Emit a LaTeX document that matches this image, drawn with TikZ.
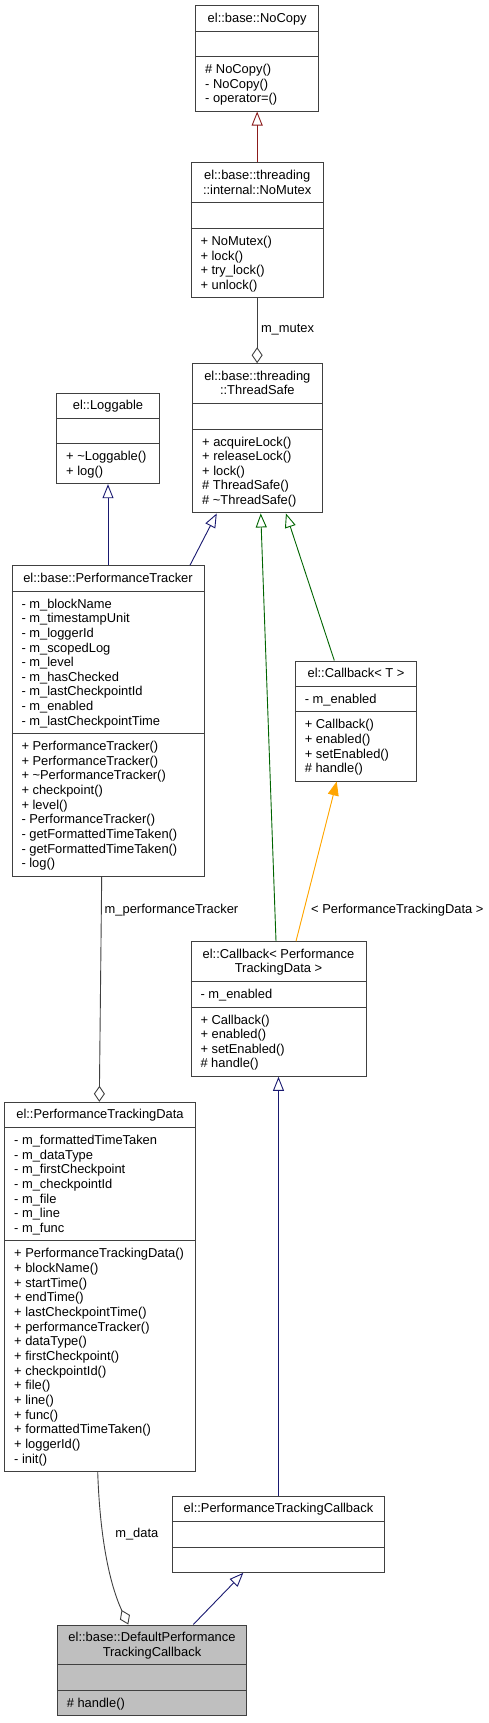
\documentclass[tikz,border=0pt]{standalone}
\usepackage{fontspec}
\setmainfont{Liberation Sans}
\usetikzlibrary{arrows.meta,fit}
\definecolor{midnightblue}{HTML}{191970}
\definecolor{darkgreen}{HTML}{006400}
\definecolor{firebrick}{HTML}{8B1A1A}
\definecolor{orangetpl}{HTML}{FFA500}
\definecolor{usegrey}{HTML}{404040}
% class box: [fill]{name}{left}{right}{top}{bottom}
\newcommand{\umlbox}[6][white]{%
  \node[classbox, fill=#1, fit={(#3,#5) (#4,#6)}] (#2) {};}
\newcommand{\umlsep}[2]{\draw[sepline] (#1.west |- 0,#2) -- (#1.east |- 0,#2);}
% centred title lines below the top of a box
\newcommand{\umltitle}[2]{%
  \foreach \row [count=\i from 0] in {#2}
    \node[ctitle, yshift={-17pt-\i*14.65pt}] (#1-t\i) at (#1.north) {\row};}
% left aligned rows of a compartment: {box}{prefix}{top}{rows}
\newcommand{\umlrows}[4]{%
  \foreach \row [count=\i from 0] in {#4}{
    \pgfmathsetmacro\rowy{#3+17+\i*14.65}
    \node[member, xshift=9.8pt] (#1-#2\i) at (#1.west |- 0,\rowy) {\row};}}
\begin{document}
\begin{tikzpicture}[x=1pt,y=-1pt,
  classbox/.style={draw=black!75, line width=1pt, inner sep=0pt},
  sepline/.style={draw=black!75, line width=1pt},
  ctitle/.style={anchor=base, inner sep=0pt, font=\fontsize{12.9}{14.65}\selectfont},
  member/.style={anchor=base west, inner sep=0pt, font=\fontsize{12.9}{14.65}\selectfont},
  lbl/.style={anchor=base west, inner sep=0pt, font=\fontsize{12.9}{14.65}\selectfont},
  inherit/.style={-{Triangle[open,length=14pt,width=11pt]}, line width=0.9pt},
  tplinst/.style={-{Triangle[length=14pt,width=11pt]}, line width=0.9pt, draw=orangetpl, fill=orangetpl},
  uses/.style={-{Diamond[open,length=16pt,width=11pt]}, line width=0.9pt, draw=usegrey}]
\useasboundingbox (0,0) rectangle (489,1723);
%
\umlbox{nocopy}{195.7}{318.7}{5.7}{111.05}
\umlsep{nocopy}{31.05} \umlsep{nocopy}{56.4}
\umltitle{nocopy}{el::base::NoCopy}
\umlrows{nocopy}{m}{56.4}{\# NoCopy(), - NoCopy(), - operator=()}
%
\umlbox{nomutex}{191}{323.3}{163}{297.65}
\umlsep{nomutex}{203} \umlsep{nomutex}{228.35}
\umltitle{nomutex}{el::base::threading, ::internal::NoMutex}
\umlrows{nomutex}{m}{228.35}{+ NoMutex(), + lock(), + try\_lock(), + unlock()}
%
\umlbox{threadsafe}{192.7}{322}{363.7}{512.95}
\umlsep{threadsafe}{403.65} \umlsep{threadsafe}{429}
\umltitle{threadsafe}{el::base::threading, ::ThreadSafe}
\umlrows{threadsafe}{m}{429}{+ acquireLock(), + releaseLock(), + lock(), \# ThreadSafe(), \# \textasciitilde ThreadSafe()}
%
\umlbox{loggable}{56.7}{159.3}{393}{483.7}
\umlsep{loggable}{418.35} \umlsep{loggable}{443.7}
\umltitle{loggable}{el::Loggable}
\umlrows{loggable}{m}{443.7}{+ \textasciitilde Loggable(), + log()}
%
\umlbox{perftracker}{12}{204}{565.7}{876.15}
\umlsep{perftracker}{591.05} \umlsep{perftracker}{733.6}
\umltitle{perftracker}{el::base::PerformanceTracker}
\umlrows{perftracker}{a}{591.05}{- m\_blockName, - m\_timestampUnit, - m\_loggerId, - m\_scopedLog, - m\_level, - m\_hasChecked, - m\_lastCheckpointId, - m\_enabled, - m\_lastCheckpointTime}
\umlrows{perftracker}{m}{733.6}{+ PerformanceTracker(), + PerformanceTracker(), + \textasciitilde PerformanceTracker(), + checkpoint(), + level(), - PerformanceTracker(), - getFormattedTimeTaken(), - getFormattedTimeTaken(), - log()}
%
\umlbox{callbackt}{295.3}{416.7}{661}{781}
\umlsep{callbackt}{686.35} \umlsep{callbackt}{711.7}
\umltitle{callbackt}{el::Callback< T >}
\umlrows{callbackt}{a}{686.35}{- m\_enabled}
\umlrows{callbackt}{m}{711.7}{+ Callback(), + enabled(), + setEnabled(), \# handle()}
%
\umlbox{callbackptd}{191}{366}{941.7}{1076.3}
\umlsep{callbackptd}{981.65} \umlsep{callbackptd}{1007}
\umltitle{callbackptd}{el::Callback< Performance, TrackingData >}
\umlrows{callbackptd}{a}{981.65}{- m\_enabled}
\umlrows{callbackptd}{m}{1007}{+ Callback(), + enabled(), + setEnabled(), \# handle()}
%
\umlbox{perfdata}{4.7}{195.3}{1102.3}{1471.35}
\umlsep{perfdata}{1127.65} \umlsep{perfdata}{1240.9}
\umltitle{perfdata}{el::PerformanceTrackingData}
\umlrows{perfdata}{a}{1127.65}{- m\_formattedTimeTaken, - m\_dataType, - m\_firstCheckpoint, - m\_checkpointId, - m\_file, - m\_line, - m\_func}
\umlrows{perfdata}{m}{1240.9}{+ PerformanceTrackingData(), + blockName(), + startTime(), + endTime(), + lastCheckpointTime(), + performanceTracker(), + dataType(), + firstCheckpoint(), + checkpointId(), + file(), + line(), + func(), + formattedTimeTaken(), + loggerId(), - init()}
%
\umlbox{ptcallback}{172.3}{384.7}{1496.3}{1572.35}
\umlsep{ptcallback}{1521.65} \umlsep{ptcallback}{1547}
\umltitle{ptcallback}{el::PerformanceTrackingCallback}
%
\umlbox[black!25]{default}{57.3}{246.7}{1625}{1715.65}
\umlsep{default}{1664.95} \umlsep{default}{1690.3}
\umltitle{default}{el::base::DefaultPerformance, TrackingCallback}
\umlrows{default}{m}{1690.3}{\# handle()}
%
% inheritance
\draw[inherit, draw=firebrick] (nomutex.north) -- (nomutex.north |- nocopy.south);
\draw[inherit, draw=midnightblue] (loggable.south |- perftracker.north) -- (loggable.south);
\draw[inherit, draw=midnightblue] ([xshift=82pt]perftracker.north) -- ([xshift=-40.6pt]threadsafe.south);
\draw[inherit, draw=darkgreen] ([xshift=-2.5pt]callbackptd.north) -- ([xshift=3.4pt]threadsafe.south);
\draw[inherit, draw=darkgreen] ([xshift=-21.7pt]callbackt.north) -- ([xshift=28.6pt]threadsafe.south);
\draw[tplinst] ([xshift=17.5pt]callbackptd.north) -- ([xshift=-19.3pt]callbackt.south);
\draw[inherit, draw=midnightblue] (callbackptd.south |- ptcallback.north) -- (callbackptd.south);
\draw[inherit, draw=midnightblue] ([xshift=41.3pt]default.north) -- ([xshift=-35.2pt]ptcallback.south);
% members
\draw[uses] (nomutex.south) -- (nomutex.south |- threadsafe.north);
\draw[uses] ([xshift=-6.3pt]perftracker.south) -- ([xshift=-0.7pt]perfdata.north);
\draw[uses] ([xshift=-2.3pt]perfdata.south) .. controls (100,1540) and (110,1585) .. ([xshift=-23.7pt]default.north);
\node[lbl] (mutexlbl) at (260.8,332.7) {m\_mutex};
\node[lbl] (trackerlbl) at (104.5,913) {m\_performanceTracker};
\node[lbl] (tpllbl) at (311,913) {< PerformanceTrackingData >};
\node[lbl] (datalbl) at (115.1,1537.5) {m\_data};
\end{tikzpicture}
\end{document}
